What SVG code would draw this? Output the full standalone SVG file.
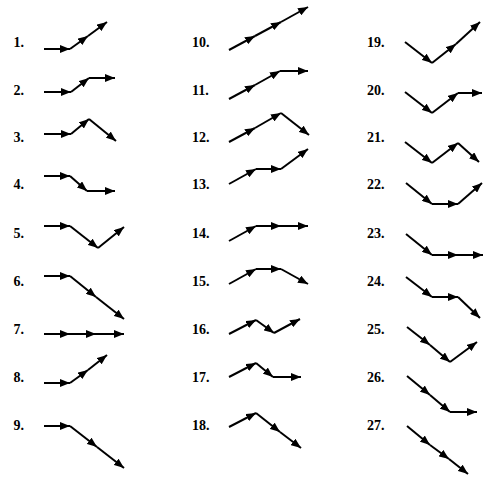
<svg xmlns="http://www.w3.org/2000/svg" width="483" height="478" viewBox="0 0 483 478">
<style>
.lb{font-family:"Liberation Serif","DejaVu Serif",serif;font-weight:bold;font-size:14px;fill:#000}
.s{fill:none;stroke:#000;stroke-width:2;marker-end:url(#ah)}
</style>
<defs>
<marker id="ah" viewBox="0 0 10 10" refX="10" refY="5" markerUnits="userSpaceOnUse" markerWidth="10" markerHeight="8" orient="auto" preserveAspectRatio="none">
<path d="M0,0 L10,5 L0,10 z" fill="#000"/>
</marker>
</defs>
<rect width="483" height="478" fill="#fff"/>
<g id="labels">
<text class="lb" x="13.5" y="47">1.</text>
<text class="lb" x="13.5" y="95">2.</text>
<text class="lb" x="13.5" y="142">3.</text>
<text class="lb" x="13.5" y="189">4.</text>
<text class="lb" x="13.5" y="238">5.</text>
<text class="lb" x="13.5" y="286">6.</text>
<text class="lb" x="13.5" y="334">7.</text>
<text class="lb" x="13.5" y="382">8.</text>
<text class="lb" x="13.5" y="430">9.</text>
<text class="lb" x="192" y="47">10.</text>
<text class="lb" x="192" y="95">11.</text>
<text class="lb" x="192" y="142">12.</text>
<text class="lb" x="192" y="189">13.</text>
<text class="lb" x="192" y="238">14.</text>
<text class="lb" x="192" y="286">15.</text>
<text class="lb" x="192" y="334">16.</text>
<text class="lb" x="192" y="382">17.</text>
<text class="lb" x="192" y="430">18.</text>
<text class="lb" x="367" y="47">19.</text>
<text class="lb" x="367" y="95">20.</text>
<text class="lb" x="367" y="142">21.</text>
<text class="lb" x="367" y="189">22.</text>
<text class="lb" x="367" y="238">23.</text>
<text class="lb" x="367" y="286">24.</text>
<text class="lb" x="367" y="334">25.</text>
<text class="lb" x="367" y="382">26.</text>
<text class="lb" x="367" y="430">27.</text>
</g>
<g id="connectors">
<g id="fig1"><path class="s" d="M44,49 L70,49"/><path class="s" d="M70,49 L88,36"/><path class="s" d="M88,36 L107,22"/></g>
<g id="fig2"><path class="s" d="M44,92 L71,92"/><path class="s" d="M71,92 L89,78"/><path class="s" d="M89,78 L115,78"/></g>
<g id="fig3"><path class="s" d="M44,134 L71,134"/><path class="s" d="M71,134 L89,119"/><path class="s" d="M89,119 L116,141"/></g>
<g id="fig4"><path class="s" d="M44,176 L70,176"/><path class="s" d="M70,176 L87,191"/><path class="s" d="M87,191 L115,191"/></g>
<g id="fig5"><path class="s" d="M44,226 L70,226"/><path class="s" d="M70,226 L98,248"/><path class="s" d="M98,248 L124,227"/></g>
<g id="fig6"><path class="s" d="M44,276 L70,276"/><path class="s" d="M70,276 L96,297"/><path class="s" d="M96,297 L124,319"/></g>
<g id="fig7"><path class="s" d="M44,334 L70,334"/><path class="s" d="M70,334 L96,334"/><path class="s" d="M96,334 L124,334"/></g>
<g id="fig8"><path class="s" d="M44,383 L70,383"/><path class="s" d="M70,383 L88,370"/><path class="s" d="M88,370 L107,355"/></g>
<g id="fig9"><path class="s" d="M44,426 L70,426"/><path class="s" d="M70,426 L97,447"/><path class="s" d="M97,447 L124,468"/></g>
<g id="fig10"><path class="s" d="M229,50 L255,36"/><path class="s" d="M255,36 L281,22"/><path class="s" d="M281,22 L308,7"/></g>
<g id="fig11"><path class="s" d="M229,99 L255,85"/><path class="s" d="M255,85 L280,71"/><path class="s" d="M280,71 L308,71"/></g>
<g id="fig12"><path class="s" d="M229,142 L255,128"/><path class="s" d="M255,128 L281,113"/><path class="s" d="M281,113 L309,135"/></g>
<g id="fig13"><path class="s" d="M229,184 L256,169"/><path class="s" d="M256,169 L281,169"/><path class="s" d="M281,169 L308,149"/></g>
<g id="fig14"><path class="s" d="M229,241 L256,226"/><path class="s" d="M256,226 L281,226"/><path class="s" d="M281,226 L308,226"/></g>
<g id="fig15"><path class="s" d="M229,284 L256,269"/><path class="s" d="M256,269 L281,269"/><path class="s" d="M281,269 L308,284"/></g>
<g id="fig16"><path class="s" d="M229,334 L256,320"/><path class="s" d="M256,320 L274,333"/><path class="s" d="M274,333 L300,319"/></g>
<g id="fig17"><path class="s" d="M229,377 L256,363"/><path class="s" d="M256,363 L273,377"/><path class="s" d="M273,377 L301,377"/></g>
<g id="fig18"><path class="s" d="M229,427 L256,413"/><path class="s" d="M256,413 L280,432"/><path class="s" d="M280,432 L301,448"/></g>
<g id="fig19"><path class="s" d="M405,42 L432,63"/><path class="s" d="M432,63 L456,44"/><path class="s" d="M456,44 L480,22"/></g>
<g id="fig20"><path class="s" d="M405,92 L432,113"/><path class="s" d="M432,113 L458,93"/><path class="s" d="M458,93 L482,93"/></g>
<g id="fig21"><path class="s" d="M405,142 L432,163"/><path class="s" d="M432,163 L458,143"/><path class="s" d="M458,143 L479,162"/></g>
<g id="fig22"><path class="s" d="M406,183 L432,204"/><path class="s" d="M432,204 L458,204"/><path class="s" d="M458,204 L482,183"/></g>
<g id="fig23"><path class="s" d="M406,234 L432,255"/><path class="s" d="M432,255 L458,255"/><path class="s" d="M458,255 L483,255"/></g>
<g id="fig24"><path class="s" d="M406,277 L432,297"/><path class="s" d="M432,297 L458,297"/><path class="s" d="M458,297 L480,318"/></g>
<g id="fig25"><path class="s" d="M407,327 L430,345"/><path class="s" d="M430,345 L450,362"/><path class="s" d="M450,362 L477,342"/></g>
<g id="fig26"><path class="s" d="M407,376 L430,395"/><path class="s" d="M430,395 L450,412"/><path class="s" d="M450,412 L477,412"/></g>
<g id="fig27"><path class="s" d="M407,426 L430,445"/><path class="s" d="M430,445 L449,459"/><path class="s" d="M449,459 L468,474"/></g>
</g>
</svg>
